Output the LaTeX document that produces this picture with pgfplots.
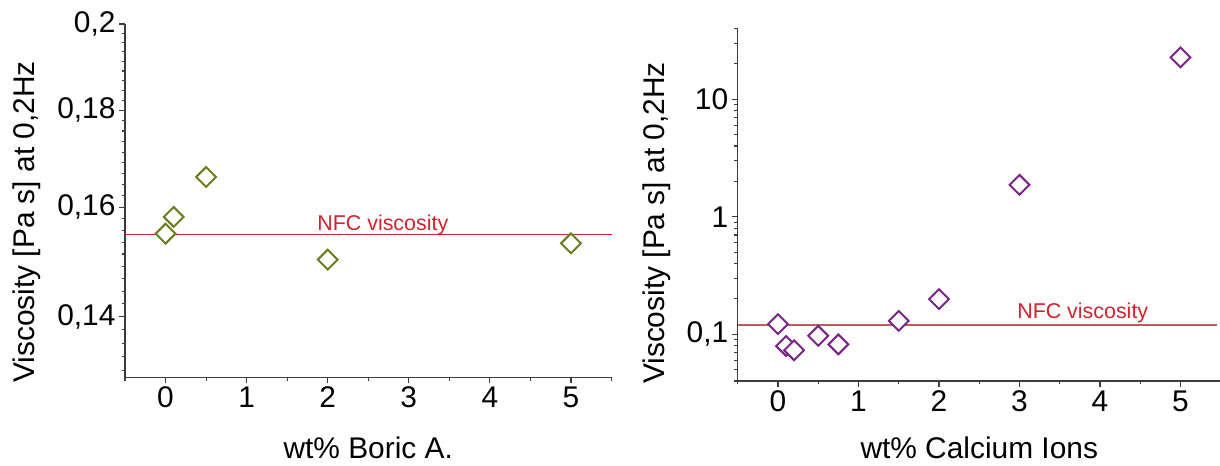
\documentclass[border=0pt]{standalone}
\usepackage{fontspec}
\setmainfont{Liberation Sans}
\usepackage{pgfplots}
\pgfplotsset{compat=1.18}

\definecolor{axisgray}{HTML}{3C3C3C}
\definecolor{boricol}{HTML}{6E7A1E}
\definecolor{calcol}{HTML}{7A2488}
\definecolor{nfcred}{HTML}{D0242C}
\definecolor{nfcline}{HTML}{B85C5C}

\pgfplotsset{
  vplot/.style={
    scale only axis,
    axis x line*=bottom,
    axis y line*=left,
    axis line style={axisgray, line width=1.3bp},
    every tick/.style={axisgray, line width=1.1bp},
    tick align=outside,
    major tick length=6bp,
    minor tick length=3.5bp,
    font=\fontsize{30}{35}\selectfont,
    xmin=-0.5, xmax=5.5,
    xtick={0,1,2,3,4,5},
    xticklabels={0,1,2,3,4,5},
    minor xtick={-0.5,0.5,1.5,2.5,3.5,4.5,5.5},
    clip=false,
  },
  diam/.style={only marks, mark=square*, mark size=7bp,
    mark options={rotate=45, fill=white, draw=#1, line width=2bp}},
}

\begin{document}
\begin{tikzpicture}
\path[use as bounding box] (0,0) rectangle (1220bp,466bp);

% Boric acid series
\begin{axis}[vplot, ymode=log,
  at={(125bp,88.5bp)}, anchor=south west,
  width=486.5bp, height=353.5bp,
  ymin=0.13, ymax=0.2,
  ytick={0.14,0.16,0.18,0.2},
  yticklabels={{0,14},{0,16},{0,18},{0,2}},
  minor ytick={0.131111,0.133333,0.135556,0.137778,
    0.142222,0.144444,0.146667,0.148889,0.151111,0.153333,0.155556,0.157778,
    0.162222,0.164444,0.166667,0.168889,0.171111,0.173333,0.175556,0.177778,
    0.182222,0.184444,0.186667,0.188889,0.191111,0.193333,0.195556,0.197778},
  xlabel={wt\% Boric A.},
  ylabel={Viscosity [Pa s] at 0,2Hz},
  xlabel style={at={(axis description cs:0.5,-0.199)}, anchor=center},
  ylabel style={at={(axis description cs:-0.2014,0.44)}, anchor=center},
]
\addplot[nfcred, line width=1.1bp] coordinates {(-0.5,0.1548) (5.5,0.1548)};
\node[anchor=base west, inner sep=0pt, text=nfcred, font=\fontsize{21.5}{25}\selectfont]
  at (axis cs:1.87,0.1548) [yshift=4bp] {NFC viscosity};
\addplot[diam=boricol] coordinates {
  (0,0.1549) (0.1,0.1581) (0.5,0.1660) (2,0.1501) (5,0.1531)
};
\end{axis}

% Calcium ion series
\begin{axis}[vplot, ymode=log,
  at={(737.75bp,85bp)}, anchor=south west,
  width=483bp, height=352.5bp,
  ymin=0.04, ymax=40,
  ytick={0.1,1,10},
  yticklabels={{0,1},1,10},
  minor ytick={0.04,0.05,0.06,0.07,0.08,0.09,
    0.2,0.3,0.4,0.5,0.6,0.7,0.8,0.9,
    2,3,4,5,6,7,8,9,20,30,40},
  xlabel={wt\% Calcium Ions},
  ylabel={Viscosity [Pa s] at 0,2Hz},
  xlabel style={at={(axis description cs:0.5,-0.189)}, anchor=center},
  ylabel style={at={(axis description cs:-0.168,0.448)}, anchor=center},
]
\addplot[nfcline, line width=1.3bp] coordinates {(-0.5,0.120) (5.45,0.120)};
\node[anchor=base west, inner sep=0pt, text=nfcred, font=\fontsize{21.5}{25}\selectfont]
  at (axis cs:2.97,0.120) [yshift=6.5bp] {NFC viscosity};
\addplot[diam=calcol] coordinates {
  (0,0.122) (0.1,0.0794) (0.2,0.073) (0.5,0.097) (0.75,0.082)
  (1.5,0.130) (2,0.199) (3,1.87) (5,22.7)
};
\end{axis}
\end{tikzpicture}
\end{document}
